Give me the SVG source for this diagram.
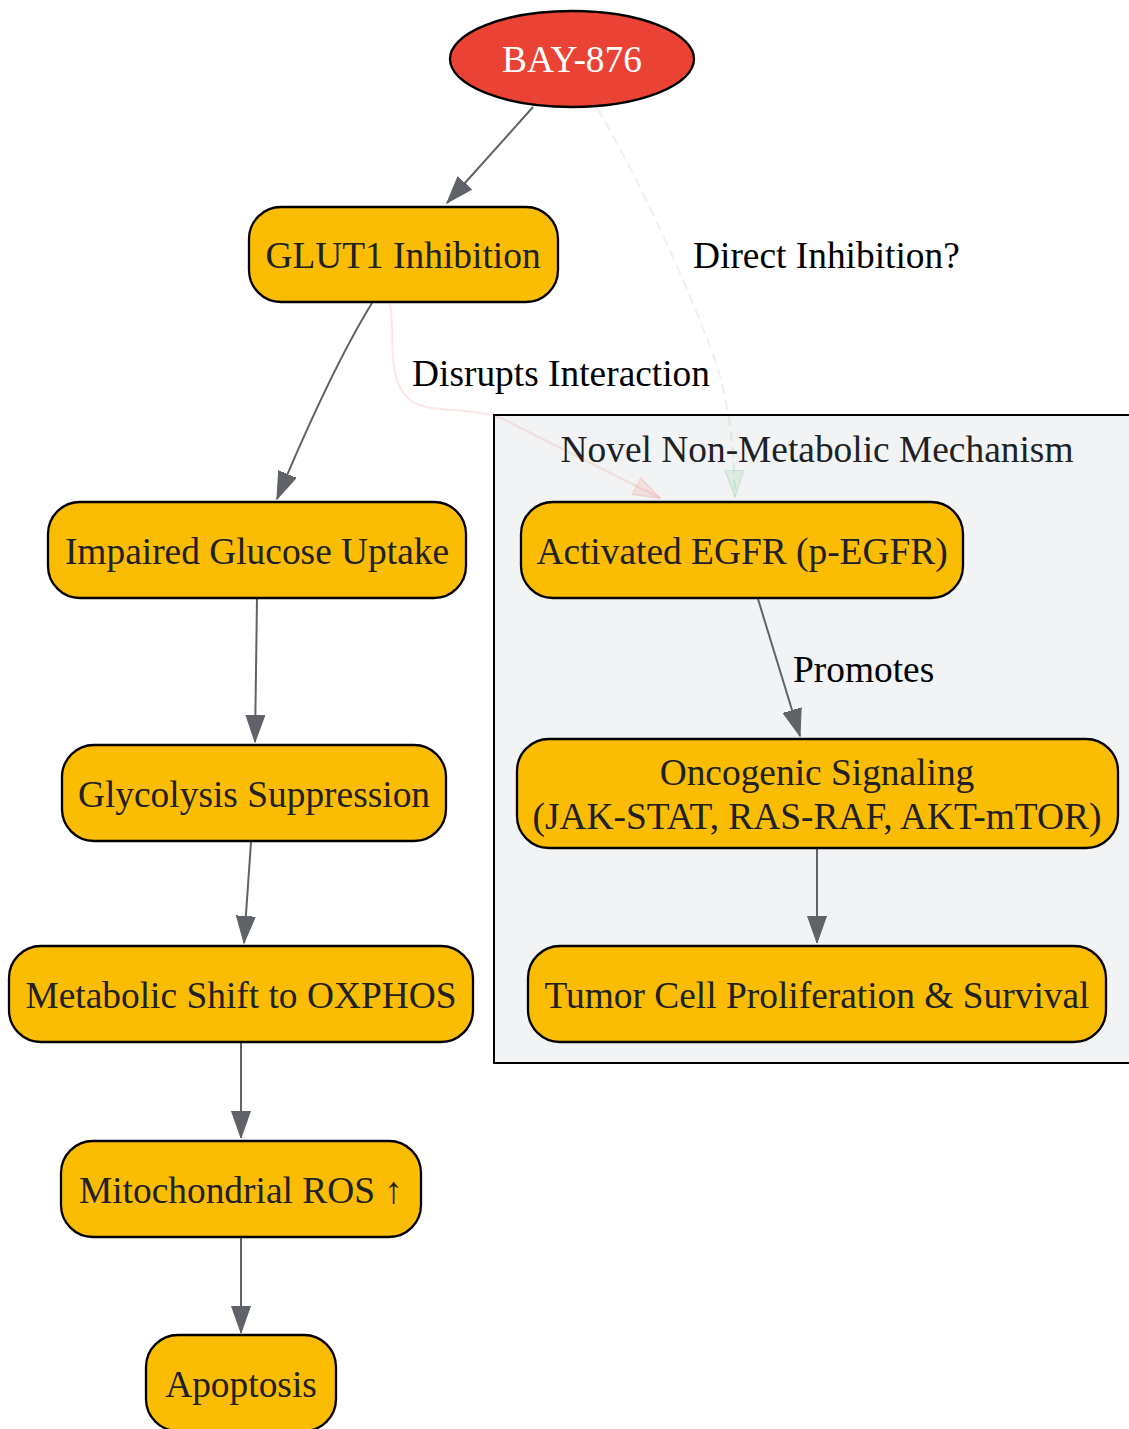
<svg xmlns="http://www.w3.org/2000/svg" width="1129" height="1429" viewBox="0 0 1129 1429">
<style>
.node rect{fill:#FBBC04;stroke:#000;stroke-width:2.3}
.t{font-family:"Liberation Serif","Times New Roman",serif;font-size:37.4px;fill:#202124;text-anchor:middle}
.el{font-family:"Liberation Serif","Times New Roman",serif;font-size:37.4px;fill:#000}
.e{fill:none;stroke:#5F6368;stroke-width:2;marker-end:url(#ah)}
</style>
<defs>
<marker id="ah" markerUnits="userSpaceOnUse" markerWidth="28" markerHeight="20" refX="27" refY="10" orient="auto"><path d="M0,0.5 L27,10 L0,19.5 z" fill="#5F6368" stroke="#5F6368" stroke-width="1"/></marker>
<marker id="ahr" markerUnits="userSpaceOnUse" markerWidth="28" markerHeight="20" refX="27" refY="10" orient="auto"><path d="M0,0.5 L27,10 L0,19.5 z" fill="#EA4335" fill-opacity="0.1" stroke="#EA4335" stroke-opacity="0.15" stroke-width="1.5"/></marker>
<marker id="ahg" markerUnits="userSpaceOnUse" markerWidth="28" markerHeight="20" refX="27" refY="10" orient="auto"><path d="M0,0.5 L27,10 L0,19.5 z" fill="#34A853" fill-opacity="0.1" stroke="#34A853" stroke-opacity="0.15" stroke-width="1.5"/></marker>
</defs>
<rect width="1129" height="1429" fill="#fff"/>
<g id="cluster">
<rect x="494" y="415" width="650" height="648" fill="#F1F3F4" stroke="#000" stroke-width="2"/>
<text class="t" x="817" y="462">Novel Non-Metabolic Mechanism</text>
</g>
<g id="connectors">
<path class="e" d="M533,107 L447,203"/>
<path class="e" d="M372,303 C340,355 310,420 277,499"/>
<path class="e" d="M257,599 L255,742"/>
<path class="e" d="M251,842 L244,943"/>
<path class="e" d="M241,1043 L241,1138"/>
<path class="e" d="M241,1238 L241,1333"/>
<path class="e" d="M758,599 L800,736"/>
<path class="e" d="M817,849 L817,943"/>
<path d="M390,304 C396,340 385,378 410,400 C430,415 470,405 505,420 L660,498" fill="none" stroke="#EA4335" stroke-opacity="0.12" stroke-width="2" marker-end="url(#ahr)"/>
<path d="M597,108 C640,180 690,290 715,360 C730,405 734,450 735,497" fill="none" stroke="#34A853" stroke-opacity="0.12" stroke-width="2" stroke-dasharray="10,6" marker-end="url(#ahg)"/>
<text class="el" x="412" y="386">Disrupts Interaction</text>
<text class="el" x="693" y="268">Direct Inhibition?</text>
<text class="el" x="793" y="682">Promotes</text>
</g>
<g id="bay876">
<ellipse cx="572" cy="59" rx="122" ry="48" fill="#EA4335" stroke="#000" stroke-width="2.3"/>
<text class="t" x="572" y="72" style="fill:#fff">BAY-876</text>
</g>
<g id="glut1" class="node"><rect x="249" y="207" width="309" height="95" rx="32"/><text class="t" x="403" y="268">GLUT1 Inhibition</text></g>
<g id="impaired" class="node"><rect x="48" y="502" width="418" height="96" rx="32"/><text class="t" x="257" y="564">Impaired Glucose Uptake</text></g>
<g id="glycolysis" class="node"><rect x="62" y="745" width="384" height="96" rx="32"/><text class="t" x="254" y="807">Glycolysis Suppression</text></g>
<g id="oxphos" class="node"><rect x="9" y="946" width="464" height="96" rx="32"/><text class="t" x="241" y="1008">Metabolic Shift to OXPHOS</text></g>
<g id="ros" class="node"><rect x="61" y="1141" width="360" height="96" rx="32"/><text class="t" x="241" y="1203">Mitochondrial ROS ↑</text></g>
<g id="apoptosis" class="node"><rect x="146" y="1335" width="190" height="96" rx="32"/><text class="t" x="241" y="1397">Apoptosis</text></g>
<g id="egfr" class="node"><rect x="521" y="502" width="442" height="96" rx="32"/><text class="t" x="742" y="564">Activated EGFR (p-EGFR)</text></g>
<g id="oncogenic" class="node"><rect x="517" y="739" width="601" height="109" rx="32"/><text class="t" x="817" y="785">Oncogenic Signaling</text><text class="t" x="817" y="829">(JAK-STAT, RAS-RAF, AKT-mTOR)</text></g>
<g id="tumor" class="node"><rect x="528" y="946" width="578" height="96" rx="32"/><text class="t" x="817" y="1008">Tumor Cell Proliferation &amp; Survival</text></g>
</svg>
